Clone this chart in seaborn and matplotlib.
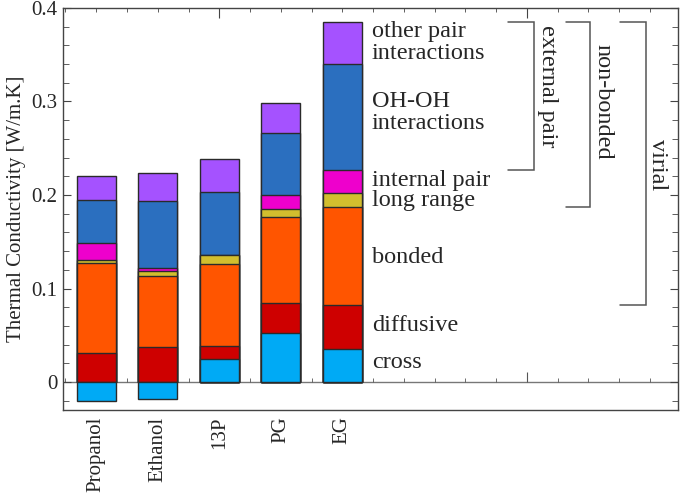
import numpy as np
import pandas as pd
import matplotlib
matplotlib.use("Agg")
import matplotlib.pyplot as plt
import seaborn as sns
from matplotlib.ticker import MultipleLocator, FixedLocator

# data
fluids = ['Propanol', 'Ethanol', '13P', 'PG', 'EG']
cross = [-0.020, -0.018, 0.0246, 0.053, 0.035]
diffusive = [0.031, 0.038, 0.0139, 0.032, 0.047]
bonded = [0.096, 0.0754, 0.0875, 0.091, 0.1052]
long_range = [0.003, 0.005, 0.010, 0.0087, 0.015]
internal_pair = [0.019, 0.0032, 0.0, 0.0156, 0.0242]
ohoh = [0.046, 0.0724, 0.0675, 0.0657, 0.1133]
other_pair = [0.025, 0.029, 0.035, 0.032, 0.045]

layer_names = ['diffusive', 'bonded', 'long range', 'internal pair',
               'OH-OH\ninteractions', 'other pair\ninteractions']
layer_colors = ['#CE0000', '#FF5500', '#D2BE2E', '#EE00CC', '#2B6FBF', '#A552FF']
cross_color = '#00AAF5'
ytick_labels = ['0', '0.1', '0.2', '0.3', '0.4']

sns.set_style('white')
plt.rcParams['font.family'] = ['Liberation Serif', 'DejaVu Serif']

df = pd.DataFrame({'x': np.arange(len(fluids)), 'cross': cross,
                   'diffusive': diffusive, 'bonded': bonded,
                   'long range': long_range, 'internal pair': internal_pair,
                   'OH-OH\ninteractions': ohoh,
                   'other pair\ninteractions': other_pair})
base = df['cross'].clip(lower=0)
cum = {}
run = base.copy()
for name in layer_names:
    run = run + df[name]
    cum[name] = run.copy()

fig = plt.figure(figsize=(6.85, 4.93), dpi=100)
ax = fig.add_axes([0.092, 0.168, 0.898, 0.816])

edge = '#2a2a2a'
ymin, ymax = -0.03, 0.4
# zero line (drawn under the bars)
ax.axhline(0, color='#777777', lw=1.0, zorder=0)

# stacked bars: draw cumulative tops from outermost to innermost
for name, col in zip(layer_names[::-1], layer_colors[::-1]):
    sns.barplot(x=df['x'], y=cum[name], color=col, saturation=1, width=0.63,
                native_scale=True, errorbar=None, edgecolor=edge,
                linewidth=1.0, ax=ax)
sns.barplot(x=df['x'], y=df['cross'], color=cross_color, saturation=1,
            width=0.63, native_scale=True, errorbar=None, edgecolor=edge,
            linewidth=1.0, ax=ax)

ax.set_xlim(-0.54, 9.46)
ax.set_ylim(ymin, ymax)

# component labels to the right of the last bar
eg = len(fluids) - 1
label_y = {'other pair\ninteractions': 0.363, 'OH-OH\ninteractions': 0.288,
           'internal pair': 0.216, 'long range': 0.194, 'bonded': 0.133,
           'diffusive': 0.061}
for name in layer_names:
    ax.text(4.48, label_y[name], name, fontsize=17.5, va='center', ha='left',
            linespacing=1.05)
ax.text(4.48, 0.021, 'cross', fontsize=17.5, va='center', ha='left')

# brackets grouping components of EG
top = cum['other pair\ninteractions'][eg]
brackets = [('external pair', 6.70, 7.12, cum['internal pair'][eg], 7.33, 0.316),
            ('non-bonded', 7.63, 8.02, cum['bonded'][eg], 8.23, 0.300),
            ('virial', 8.52, 8.93, cum['diffusive'][eg], 9.12, 0.232)]
for text, x0, x1, bottom, tx, ty in brackets:
    ax.plot([x0, x1, x1, x0], [top, top, bottom, bottom], color='#555555',
            lw=1.1, solid_joinstyle='miter')
    ax.text(tx, ty, text, fontsize=17.5, rotation=270, va='center', ha='center')

# axes styling
for s in ax.spines.values():
    s.set_color('#444444')
    s.set_linewidth(1.0)
ax.set_xticks(range(len(fluids)))
ax.set_xticklabels(fluids, rotation=90, fontsize=15)
ax.tick_params(axis='x', which='both', bottom=False, top=False, pad=1)
ax.set_xlabel('')
ax.set_yticks([0, 0.1, 0.2, 0.3, 0.4])
ax.set_yticklabels(ytick_labels, fontsize=15)
ax.yaxis.set_minor_locator(MultipleLocator(0.02))
ax.tick_params(axis='y', which='both', direction='in', left=True, right=True,
               color='#444444')
ax.tick_params(axis='y', which='major', length=6, pad=4)
ax.tick_params(axis='y', which='minor', length=4)
ax.set_ylabel('Thermal Conductivity [W/m.K]', fontsize=15, labelpad=4)

# top ticks
topax = ax.secondary_xaxis('top')
topax.xaxis.set_major_locator(FixedLocator([2, 7]))
topax.xaxis.set_minor_locator(MultipleLocator(0.5))
topax.tick_params(which='both', direction='in', labeltop=False, color='#444444')
topax.tick_params(which='major', length=7)
topax.tick_params(which='minor', length=3)
topax.spines['top'].set_visible(False)

# ticks along the zero line
zax = ax.secondary_xaxis((0 - ymin) / (ymax - ymin))
zax.xaxis.set_major_locator(FixedLocator([2, 7]))
zax.xaxis.set_minor_locator(MultipleLocator(0.5))
zax.tick_params(which='both', direction='in', labelbottom=False, color='#555555')
zax.tick_params(which='major', length=7)
zax.tick_params(which='minor', length=3)
zax.spines['bottom'].set_visible(False)

fig.savefig('out.png', dpi=100)
